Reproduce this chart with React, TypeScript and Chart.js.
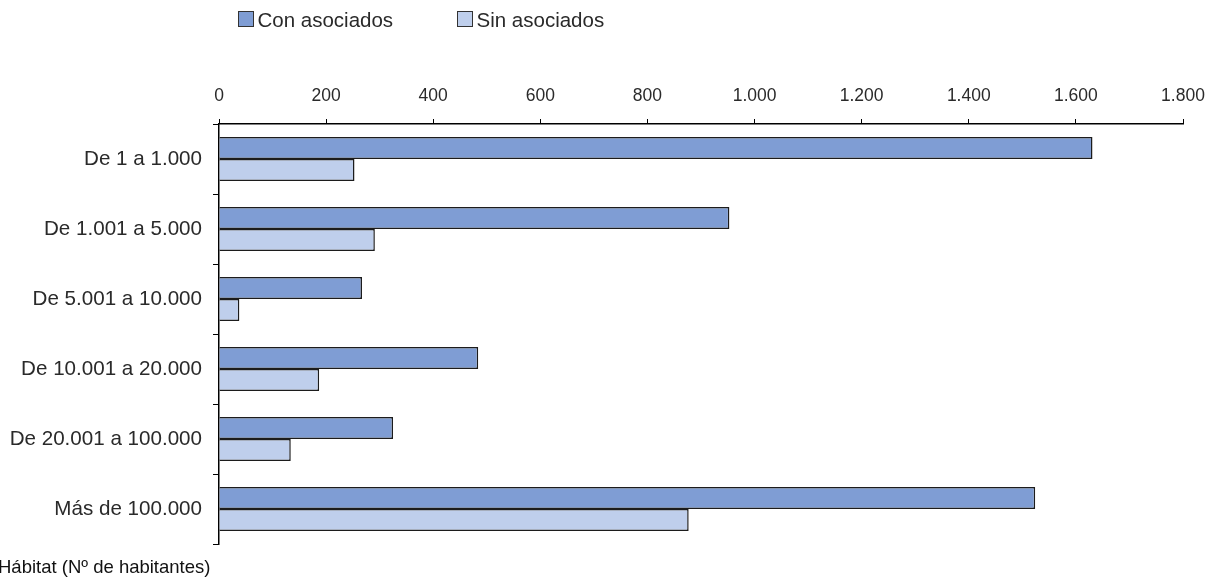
import React, { useEffect, useRef } from "react";
import { Chart, registerables } from "chart.js";

Chart.register(...registerables);

const categories = [
  "De 1 a 1.000",
  "De 1.001 a 5.000",
  "De 5.001 a 10.000",
  "De 10.001 a 20.000",
  "De 20.001 a 100.000",
  "Más de 100.000",
];
const seriesNames = ["Con asociados", "Sin asociados"];
const conAsociados = [1631, 953, 267, 484, 325, 1524];
const sinAsociados = [253, 291, 38, 187, 134, 877];
const xMax = 1800;
const xStep = 200;
const yAxisTitle = "Hábitat (Nº de habitantes)";

const COLORS = ["#7f9dd4", "#bfcfec"];
const FONT = "'Liberation Sans', Arial, Helvetica, sans-serif";
const TEXT = "#2a2a2a";

function fmt(v: number): string {
  return String(Math.round(v)).replace(/\B(?=(\d{3})+(?!\d))/g, ".");
}

const overlayPlugin = {
  id: "overlay",
  afterDraw(chart: any) {
    const ctx = chart.ctx;
    ctx.save();
    // legend
    const legendX = [238, 457];
    chart.data.datasets.forEach((ds: any, i: number) => {
      const x = legendX[i];
      ctx.fillStyle = ds.backgroundColor;
      ctx.fillRect(x, 11, 16, 16);
      ctx.strokeStyle = "#333";
      ctx.lineWidth = 1;
      ctx.strokeRect(x + 0.5, 11.5, 15, 15);
      ctx.fillStyle = TEXT;
      ctx.font = `20.5px ${FONT}`;
      ctx.textAlign = "left";
      ctx.textBaseline = "alphabetic";
      ctx.fillText(ds.label, x + 19.5, 27);
    });
    // bottom-left title
    ctx.font = `18.5px ${FONT}`;
    ctx.fillStyle = "#111";
    ctx.textAlign = "left";
    ctx.textBaseline = "alphabetic";
    ctx.fillText(yAxisTitle, -2, 573);
    ctx.restore();
  },
};

export default function App() {
  const ref = useRef<HTMLCanvasElement | null>(null);
  useEffect(() => {
    if (!ref.current) return;
    const chart = new Chart(ref.current, {
      type: "bar",
      data: {
        labels: categories,
        datasets: [
          {
            label: seriesNames[0],
            data: conAsociados,
            backgroundColor: COLORS[0],
            borderColor: "#1c1c1c",
            borderWidth: 1.5,
            categoryPercentage: 0.63,
            barPercentage: 1,
          },
          {
            label: seriesNames[1],
            data: sinAsociados,
            backgroundColor: COLORS[1],
            borderColor: "#1c1c1c",
            borderWidth: 1.5,
            categoryPercentage: 0.63,
            barPercentage: 1,
          },
        ],
      },
      options: {
        indexAxis: "y",
        responsive: false,
        animation: false,
        devicePixelRatio: 1,
        layout: { padding: { left: 0, top: 0, right: 26, bottom: 35 } },
        plugins: { legend: { display: false }, tooltip: { enabled: false } },
        scales: {
          x: {
            position: "top",
            min: 0,
            max: xMax,
            ticks: {
              stepSize: xStep,
              color: TEXT,
              font: { family: FONT, size: 17.5 },
              padding: 12,
              maxRotation: 0,
              callback: (v: any) => fmt(Number(v)),
            },
            grid: {
              drawOnChartArea: false,
              drawTicks: true,
              tickLength: 5,
              color: "#000",
              lineWidth: 1,
            },
            border: { display: true, color: "#000", width: 1.5 },
            afterFit: (s: any) => {
              s.height = 124;
              s.paddingRight = 0;
              s.paddingLeft = 0;
            },
          },
          y: {
            offset: true,
            ticks: {
              color: TEXT,
              font: { family: FONT, size: 20.6 },
              padding: 11,
            },
            grid: {
              offset: true,
              drawOnChartArea: false,
              drawTicks: true,
              tickLength: 6,
              color: "#000",
              lineWidth: 1,
            },
            border: { display: true, color: "#000", width: 1.5 },
            afterFit: (s: any) => {
              s.width = 219;
              s.paddingTop = 0;
              s.paddingBottom = 0;
            },
          },
        },
      },
      plugins: [overlayPlugin],
    } as any);
    return () => chart.destroy();
  }, []);
  return (
    <div style={{ position: "fixed", left: 0, top: 0, width: 1209, height: 579, background: "#fff" }}>
      <canvas ref={ref} width={1209} height={579} style={{ width: 1209, height: 579, display: "block" }} />
    </div>
  );
}
